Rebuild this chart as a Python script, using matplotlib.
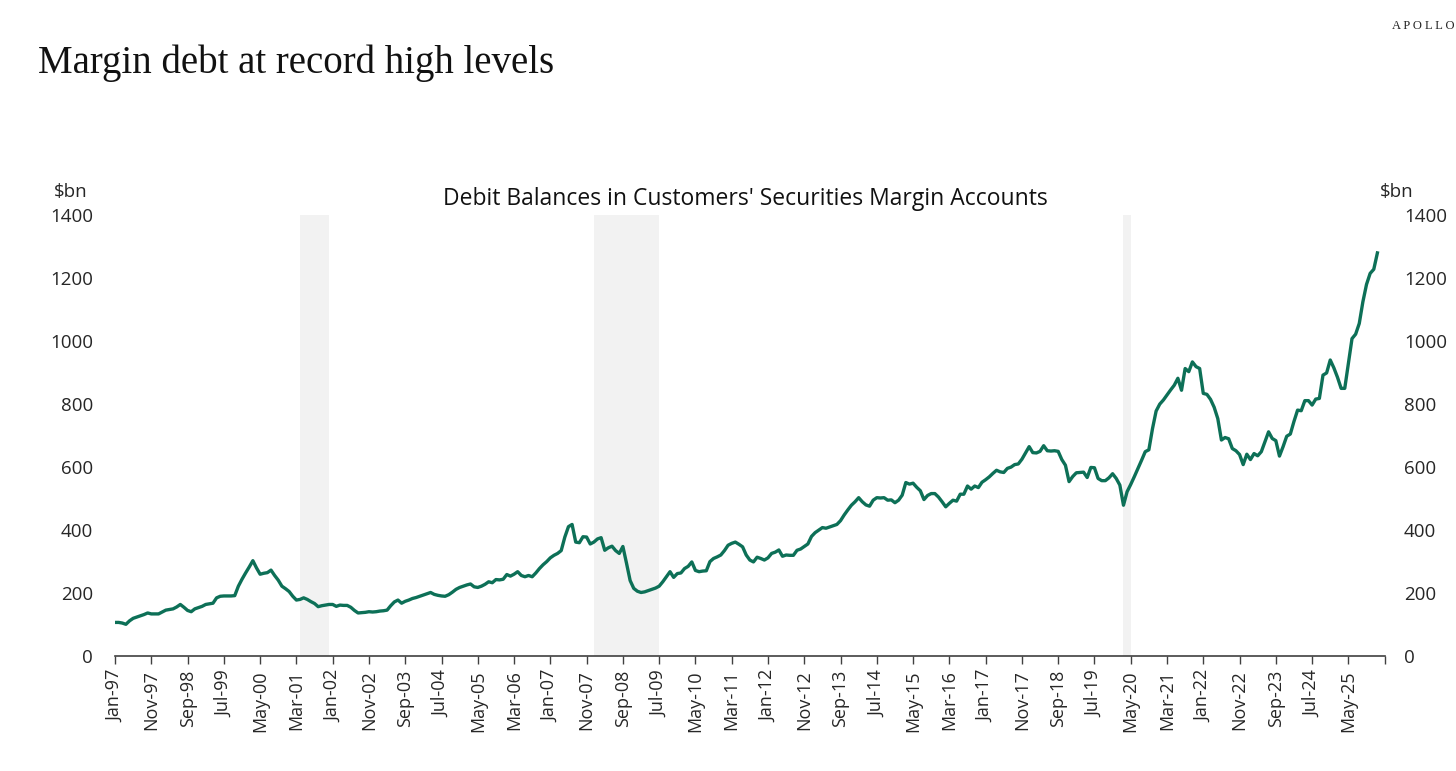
import matplotlib
matplotlib.use("Agg")
import matplotlib.pyplot as plt
import numpy as np
import pandas as pd

# FINRA debit balances in customers' securities margin accounts, $bn (monthly, Jan-97 onward)
margin_debt = [
    # 1997
    107, 107, 105, 101, 112, 120, 124, 128, 132, 137, 134, 134,
    # 1998
    134, 140, 146, 148, 150, 156, 164, 155, 145, 141, 150, 154,
    # 1999
    158, 164, 166, 168, 185, 190, 191, 191, 191, 192, 222, 244,
    # 2000
    264, 283, 303, 280, 260, 263, 265, 273, 256, 241, 222, 214,
    # 2001
    205, 190, 178, 180, 185, 180, 173, 167, 157, 160, 162, 164,
    # 2002
    164, 158, 162, 161, 161, 155, 145, 137, 138, 139, 141, 140,
    # 2003
    141, 143, 144, 146, 160, 172, 178, 168, 174, 178, 183, 186,
    # 2004
    190, 194, 198, 202, 196, 193, 191, 190, 195, 203, 212, 218,
    # 2005
    222, 226, 229, 220, 218, 222, 228, 236, 233, 243, 242, 244,
    # 2006
    259, 254, 260, 268, 256, 252, 256, 252, 264, 278, 290, 300,
    # 2007
    312, 320, 326, 335, 378, 411, 418, 362, 360, 379, 378, 356,
    # 2008
    362, 372, 376, 336, 344, 349, 335, 326, 348, 295, 240, 215,
    # 2009
    206, 202, 204, 208, 212, 216, 222, 236, 252, 268, 250, 262,
    # 2010
    264, 278, 285, 299, 272, 268, 270, 271, 300, 310, 315, 321,
    # 2011
    335, 352, 358, 362, 355, 347, 321, 305, 299, 314, 310, 305,
    # 2012
    312, 326, 330, 337, 317, 321, 320, 320, 336, 340, 348, 356,
    # 2013
    380, 392, 400, 408, 406, 410, 414, 418, 430, 448, 464, 479,
    # 2014
    490, 503, 490, 480, 476, 495, 503, 502, 503, 495, 496, 487,
    # 2015
    495, 511, 551, 546, 549, 536, 525, 497, 510, 516, 516, 505,
    # 2016
    490, 474, 485, 495, 492, 514, 514, 540, 530, 540, 535, 552,
    # 2017
    560, 569, 580, 590, 585, 583, 596, 600, 608, 610, 625, 645,
    # 2018
    665, 646, 645, 650, 668, 652, 651, 652, 650, 624, 606, 554,
    # 2019
    570, 582, 583, 584, 567, 599, 598, 564, 557, 557, 566, 579,
    # 2020
    564, 543, 479, 522, 545, 570, 596, 622, 649, 655, 722, 778,
    # 2021
    800, 813, 829, 845, 860, 882, 844, 913, 903, 934, 919, 913,
    # 2022
    834, 831, 815, 790, 754, 686, 694, 690, 659, 652, 640, 608,
    # 2023
    641, 624, 643, 636, 649, 680, 712, 691, 684, 635, 665, 698,
    # 2024
    705, 745, 781, 779, 811, 811, 797, 816, 818, 892, 899, 940,
    # 2025
    915, 885, 850, 850, 930, 1008, 1022, 1056, 1125, 1180, 1215, 1228,
    # 2026
    1280,
]

recession_start = ["2001-04", "2008-01", "2020-03"]
recession_end = ["2001-12", "2009-07", "2020-05"]

y_ticks = [0, 200, 400, 600, 800, 1000, 1200, 1400]

LINE_COLOR = "#0d7057"
FONT = ["Open Sans", "DejaVu Sans"]
SERIF = ["Liberation Serif", "DejaVu Serif"]

dates = pd.date_range("1997-01-01", periods=len(margin_debt), freq="MS")
x = np.arange(len(margin_debt))


def month_index(label: str) -> int:
    stamp = pd.Timestamp(label + "-01")
    return (stamp.year - dates[0].year) * 12 + stamp.month - dates[0].month


plt.rcParams["font.family"] = FONT

fig = plt.figure(figsize=(14.56, 7.71), dpi=100)
ax = fig.add_axes([0.079, 0.149, 0.872, 0.572])

for start, end in zip(recession_start, recession_end):
    ax.axvspan(month_index(start), month_index(end), color="#f2f2f2", lw=0, zorder=0)

ax.plot(x, margin_debt, color=LINE_COLOR, lw=2.4, zorder=3, solid_joinstyle="round")

axis_end = 350
ax.set_xlim(0, axis_end)
ax.set_ylim(0, 1400)

tick_pos = list(range(0, axis_end + 1, 10))
tick_lab = [dates[i].strftime("%b-%y") if i < len(dates) else "" for i in tick_pos]
ax.set_xticks(tick_pos)
ax.set_xticklabels(tick_lab, rotation=90, fontsize=13, color="#262626")
ax.tick_params(axis="x", direction="out", length=6, width=1, color="#404040", pad=4)

ax.set_yticks(y_ticks)
ax.set_yticklabels([str(v) for v in y_ticks], fontsize=13.5, color="#262626")
ax.tick_params(axis="y", length=0, pad=16)

for side in ("left", "right", "top"):
    ax.spines[side].set_visible(False)
ax.spines["bottom"].set_color("#404040")
ax.spines["bottom"].set_linewidth(1.2)

ax_r = ax.twinx()
ax_r.set_ylim(0, 1400)
ax_r.set_yticks(y_ticks)
ax_r.set_yticklabels([str(v) for v in y_ticks], fontsize=13.5, color="#262626")
ax_r.tick_params(axis="y", length=0, pad=14)
for side in ("left", "right", "top", "bottom"):
    ax_r.spines[side].set_visible(False)

fig.text(0.037, 0.745, "$bn", fontsize=13.5, color="#262626")
fig.text(0.948, 0.745, "$bn", fontsize=13.5, color="#262626")
fig.text(0.512, 0.734, "Debit Balances in Customers' Securities Margin Accounts",
         fontsize=16.5, color="#111111", ha="center")

fig.text(0.026, 0.905, "Margin debt at record high levels",
         fontsize=28, family=SERIF, color="#111111")
fig.text(0.999, 0.963, "A P O L L O", fontsize=9, ha="right",
         family=SERIF, color="#222222")

fig.savefig("out.png", dpi=100)
